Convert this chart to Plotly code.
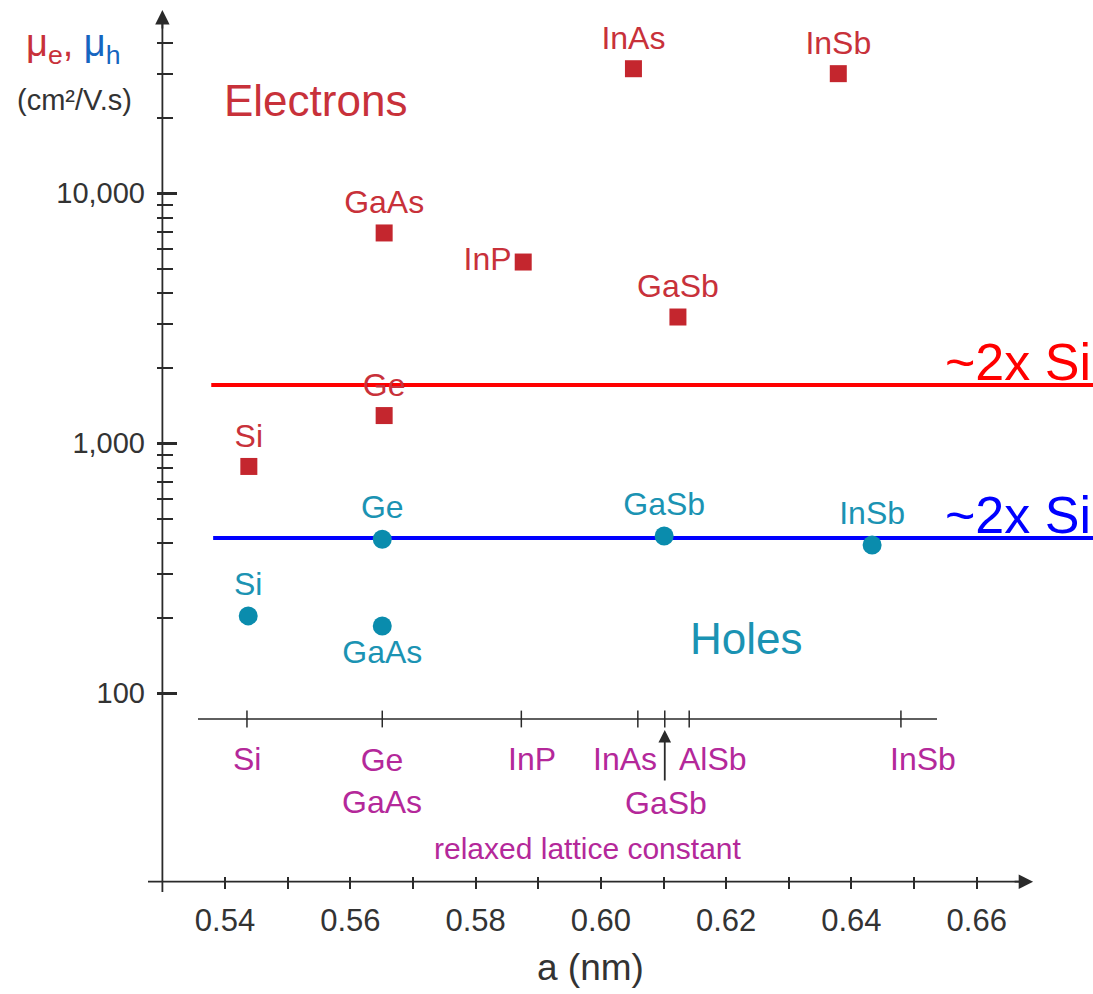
import numpy as np
import plotly.graph_objects as go

# ---------------- data ----------------
e_names = ["Si", "Ge", "GaAs", "InP", "InAs", "GaSb", "InSb"]
e_a = [0.5438, 0.5654, 0.5654, 0.5876, 0.6052, 0.6123, 0.6379]
e_mu = [808, 1291, 6940, 5310, 31500, 3200, 30100]
e_textpos = ["top center", "top center", "top center", "middle left", "top center", "top center", "top center"]

h_names = ["Si", "Ge", "GaAs", "GaSb", "InSb"]
h_a = [0.5437, 0.5651, 0.5651, 0.6101, 0.6433]
h_mu = [204, 413, 186, 426, 392]
h_textpos = ["top center", "top center", "bottom center", "top center", "top center"]

ref_e = 1711   # ~2x Si electrons
ref_h = 418    # ~2x Si holes

lat_names = ["Si", "Ge<br>GaAs", "InP", "InAs", "GaSb", "AlSb", "InSb"]
lat_a = [0.5435, 0.5651, 0.5873, 0.6059, 0.6102, 0.6141, 0.6479]

x_ticks = [0.54, 0.56, 0.58, 0.60, 0.62, 0.64, 0.66]
x_minor = [0.55, 0.57, 0.59, 0.61, 0.63, 0.65]
y_ticks = [100, 1000, 10000]
y_ticktext = ["100", "1,000", "10,000"]
y_minor = [200, 300, 400, 500, 600, 700, 800, 900,
           2000, 3000, 4000, 5000, 6000, 7000, 8000, 9000,
           20000, 30000, 40000]

# ---------------- styles ----------------
RED_PT = "#C4262E"
RED_TXT = "#C8313A"
TEAL_PT = "#0A8CAD"
TEAL_TXT = "#1B93B3"
MAG = "#B4289A"
AX = "#2a2a2a"
FONT = "Liberation Sans, Arial, sans-serif"
NARROW = "Liberation Sans Narrow, Arial Narrow, Liberation Sans, sans-serif"

W, H = 1093, 994
L, R, T, B = 148, 0, 10, 102
PX_PER_UNIT = 6264.0
Y0_PX = 162.4           # pixel of x = 0.53
x_lo = 0.53 - (Y0_PX - L) / PX_PER_UNIT
x_hi = x_lo + (W - L - R) / PX_PER_UNIT
PX_100 = 693.3
DEC = 250.0
y_top = 2 + (PX_100 - T) / DEC
y_bot = 2 - ((H - B) - PX_100) / DEC
plot_h = H - T - B


def ylog(px):
    return 2 + (PX_100 - px) / DEC


x_axis_val = 10 ** ylog(881.7)
inner_val = 10 ** ylog(719)

fig = go.Figure()

# reference lines
fig.add_trace(go.Scatter(x=[0.5378, x_hi], y=[ref_e, ref_e], mode="lines",
                         line=dict(color="#FF0000", width=4), hoverinfo="skip"))
fig.add_trace(go.Scatter(x=[0.5381, x_hi], y=[ref_h, ref_h], mode="lines",
                         line=dict(color="#0000FF", width=4), hoverinfo="skip"))

# electrons
fig.add_trace(go.Scatter(x=e_a, y=e_mu, mode="markers+text", text=e_names,
                         textposition=e_textpos,
                         textfont=dict(family=FONT, size=32, color=RED_TXT),
                         marker=dict(symbol="square", size=17, color=RED_PT),
                         cliponaxis=False))
# holes
fig.add_trace(go.Scatter(x=h_a, y=h_mu, mode="markers+text", text=h_names,
                         textposition=h_textpos,
                         textfont=dict(family=FONT, size=32, color=TEAL_TXT),
                         marker=dict(symbol="circle", size=19, color=TEAL_PT),
                         cliponaxis=False))

# inner "relaxed lattice constant" axis
fig.add_trace(go.Scatter(x=[x_lo + (198 - L) / PX_PER_UNIT, x_lo + (937 - L) / PX_PER_UNIT],
                         y=[inner_val, inner_val], mode="lines",
                         line=dict(color=AX, width=1.5), hoverinfo="skip"))
fig.add_trace(go.Scatter(x=lat_a, y=[inner_val] * len(lat_a), mode="markers",
                         marker=dict(symbol="line-ns", size=12,
                                     line=dict(color=AX, width=1.5)),
                         hoverinfo="skip"))

shapes = []
# main x-axis line
shapes.append(dict(type="line", xref="x", yref="y", x0=x_lo, x1=0.667,
                   y0=x_axis_val, y1=x_axis_val, line=dict(color=AX, width=1.8)))
# main y-axis line
shapes.append(dict(type="line", xref="x", yref="paper", x0=0.53, x1=0.53,
                   y0=0, y1=0.985, line=dict(color=AX, width=1.8)))

ann = []
# axis arrowheads
ann.append(dict(x=0.669, y=np.log10(x_axis_val), xref="x", yref="y", ax=-20, ay=0,
                showarrow=True, arrowhead=2, arrowsize=1.6, arrowwidth=1.8,
                arrowcolor=AX, text=""))
ann.append(dict(x=0.53, y=1.0, xref="x", yref="paper", ax=0, ay=20,
                showarrow=True, arrowhead=2, arrowsize=1.6, arrowwidth=1.8,
                arrowcolor=AX, text=""))

# inner axis labels
lab_rows = {"Si": (0, 1), "Ge<br>GaAs": (0, 1), "InP": (11, 1), "InAs": (-13, 1),
            "GaSb": (1, 2), "AlSb": (24, 1), "InSb": (22, 1)}
for nm, xa in zip(lat_names, lat_a):
    dx, row = lab_rows[nm]
    yc = 759 if row == 1 else 803
    if nm == "Ge<br>GaAs":
        yc = 781
    ann.append(dict(x=xa, y=ylog(yc), xref="x", yref="y", xshift=dx, text=nm,
                    showarrow=False, font=dict(family=FONT, size=32, color=MAG),
                    xanchor="center", yanchor="middle"))
ann.append(dict(x=lat_a[4], y=ylog(730), xref="x", yref="y", ax=0, ay=52,
                showarrow=True, arrowhead=2, arrowsize=1.4, arrowwidth=1.8,
                arrowcolor=AX, text=""))
ann.append(dict(x=x_lo + (587.5 - L) / PX_PER_UNIT, y=ylog(848), xref="x", yref="y",
                text="relaxed lattice constant", showarrow=False,
                font=dict(family=FONT, size=30, color=MAG)))

# big labels
ann.append(dict(x=x_lo + (315 - L) / PX_PER_UNIT, y=ylog(100), xref="x", yref="y",
                text="Electrons", showarrow=False,
                font=dict(family=FONT, size=44, color=RED_TXT)))
ann.append(dict(x=x_lo + (746 - L) / PX_PER_UNIT, y=ylog(638), xref="x", yref="y",
                text="Holes", showarrow=False,
                font=dict(family=FONT, size=44, color=TEAL_TXT)))
ann.append(dict(x=1, y=np.log10(ref_e), xref="paper", yref="y", xanchor="right",
                yanchor="bottom", yshift=-8, text="~2x Si", showarrow=False,
                font=dict(family=FONT, size=52, color="#FF0000")))
ann.append(dict(x=1, y=np.log10(ref_h), xref="paper", yref="y", xanchor="right",
                yanchor="bottom", yshift=-8, text="~2x Si", showarrow=False,
                font=dict(family=FONT, size=52, color="#0000FF")))

# y-axis title
ann.append(dict(x=(24 - L) / (W - L - R), y=(H - B - 46) / plot_h, xref="paper", yref="paper",
                xanchor="left", yanchor="middle", showarrow=False,
                text="<span style='color:#C8313A'>μ<sub>e</sub>,</span> "
                     "<span style='color:#1565C0'>μ<sub>h</sub></span>",
                font=dict(family=FONT, size=38)))
ann.append(dict(x=(74 - L) / (W - L - R), y=(H - B - 100) / plot_h, xref="paper", yref="paper",
                xanchor="center", yanchor="middle", showarrow=False,
                text="(cm²/V.s)", font=dict(family=FONT, size=29, color="#333333")))
# x-axis title
ann.append(dict(x=(590 - L) / (W - L - R), y=(H - B - 967) / plot_h, xref="paper", yref="paper",
                xanchor="center", yanchor="middle", showarrow=False,
                text="a (nm)", font=dict(family=NARROW, size=37, color="#333333")))

fig.update_layout(
    width=W, height=H,
    margin=dict(l=L, r=R, t=T, b=B, pad=0),
    paper_bgcolor="white", plot_bgcolor="white",
    showlegend=False,
    shapes=shapes, annotations=ann,
    xaxis=dict(range=[x_lo, x_hi], showgrid=False, zeroline=False, showline=False,
               anchor="free", position=(H - B - 876) / plot_h,
               tickmode="array", tickvals=x_ticks, ticktext=[f"{v:.2f}" for v in x_ticks],
               ticks="outside", ticklen=12, tickwidth=1.5, tickcolor=AX,
               ticklabelstandoff=5,
               tickfont=dict(family=NARROW, size=31, color="#333333"),
               minor=dict(tickmode="array", tickvals=x_minor, ticks="outside",
                          ticklen=12, tickwidth=1.5, tickcolor=AX, showgrid=False)),
    yaxis=dict(type="log", range=[y_bot, y_top], showgrid=False, zeroline=False, showline=False,
               anchor="free", position=(156 - L) / (W - L - R),
               tickmode="array", tickvals=y_ticks, ticktext=y_ticktext,
               ticks="inside", ticklen=20, tickwidth=3, tickcolor=AX,
               ticklabelstandoff=11,
               tickfont=dict(family=FONT, size=29, color="#333333"),
               minor=dict(tickmode="array", tickvals=y_minor, ticks="inside",
                          ticklen=16, tickwidth=1.5, tickcolor=AX, showgrid=False)),
)

fig.write_html("out.html")
